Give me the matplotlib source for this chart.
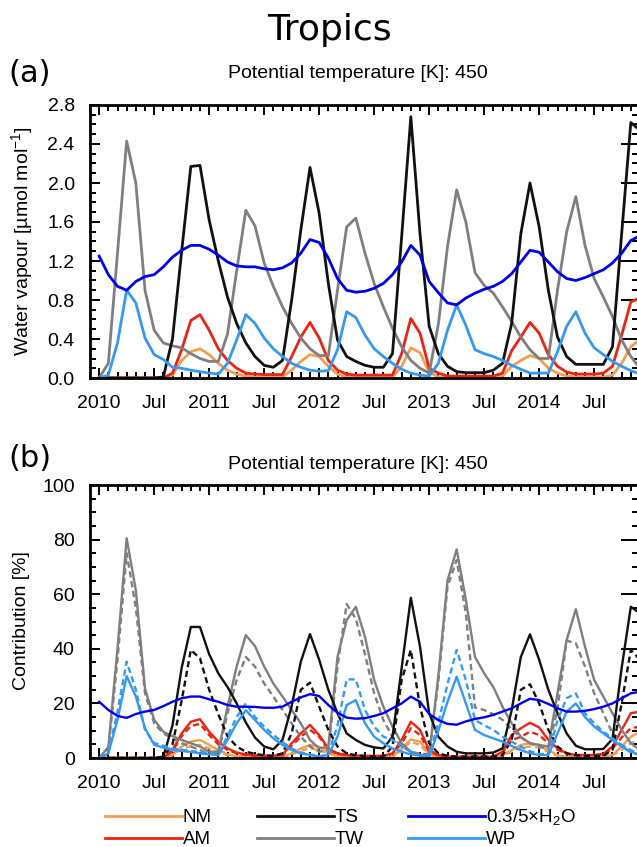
import numpy as np
import matplotlib.pyplot as plt
from matplotlib.ticker import MultipleLocator, FormatStrFormatter

plt.rcParams['font.family'] = ['Liberation Sans', 'DejaVu Sans']
plt.rcParams['mathtext.fontset'] = 'custom'
plt.rcParams['mathtext.rm'] = 'Liberation Sans'
plt.rcParams['mathtext.it'] = 'Liberation Sans:italic'

# month index 0 = Jan 2010 ... 59 = Dec 2014
months = np.arange(60)
tick_pos = np.arange(0, 60, 6)
tick_lab = ['2010', 'Jul', '2011', 'Jul', '2012', 'Jul', '2013', 'Jul', '2014', 'Jul']

# (a) water vapour [umol/mol]
nm_top = [0, 0, 0, 0, 0, 0, 0, 0,
          0.03, 0.18, 0.27, 0.30, 0.24, 0.15, 0.08, 0.04,
          0.02, 0.01, 0.01, 0.01, 0.01, 0.08, 0.17, 0.24,
          0.22, 0.12, 0.04, 0.01, 0.01, 0.01, 0.01, 0.01,
          0.01, 0.12, 0.31, 0.26, 0.06, 0.01, 0.01, 0.01,
          0.01, 0.01, 0.01, 0.01, 0.02, 0.12, 0.18, 0.23,
          0.20, 0.10, 0.05, 0.02, 0.01, 0.01, 0.01, 0.01,
          0.03, 0.15, 0.32, 0.40]
am_top = [0, 0, 0, 0, 0, 0, 0, 0,
          0.05, 0.29, 0.59, 0.65, 0.49, 0.30, 0.18, 0.10,
          0.05, 0.04, 0.035, 0.035, 0.035, 0.22, 0.42, 0.57,
          0.41, 0.18, 0.08, 0.04, 0.03, 0.03, 0.03, 0.03,
          0.03, 0.25, 0.61, 0.46, 0.10, 0.05, 0.02, 0.02,
          0.02, 0.02, 0.02, 0.02, 0.05, 0.28, 0.42, 0.57,
          0.46, 0.24, 0.12, 0.06, 0.04, 0.04, 0.04, 0.05,
          0.12, 0.44, 0.78, 0.82]
ts_top = [0, 0, 0, 0, 0, 0, 0, 0.01,
          0.40, 1.30, 2.17, 2.18, 1.62, 1.20, 0.83, 0.56,
          0.36, 0.22, 0.13, 0.11, 0.18, 0.80, 1.52, 2.16,
          1.69, 0.97, 0.39, 0.22, 0.17, 0.13, 0.11, 0.11,
          0.25, 1.45, 2.68, 1.48, 0.53, 0.25, 0.12, 0.065,
          0.055, 0.055, 0.055, 0.08, 0.15, 0.56, 1.48, 2.00,
          1.55, 0.90, 0.42, 0.22, 0.14, 0.14, 0.14, 0.14,
          0.32, 1.48, 2.62, 2.54]
tw_top = [0, 0.15, 1.28, 2.43, 2.00, 0.90, 0.49, 0.36,
          0.33, 0.31, 0.25, 0.20, 0.17, 0.17, 0.45, 1.10,
          1.72, 1.56, 1.18, 0.94, 0.73, 0.56, 0.41, 0.30,
          0.23, 0.23, 0.90, 1.55, 1.64, 1.28, 0.97, 0.73,
          0.51, 0.32, 0.18, 0.10, 0.05, 0.55, 1.35, 1.93,
          1.60, 1.08, 0.95, 0.87, 0.73, 0.58, 0.42, 0.29,
          0.20, 0.20, 0.90, 1.50, 1.86, 1.36, 1.02, 0.83,
          0.63, 0.39, 0.22, 0.10]
wp_top = [0, 0.03, 0.36, 0.90, 0.77, 0.41, 0.24, 0.19,
          0.11, 0.10, 0.08, 0.065, 0.05, 0.04, 0.15, 0.39,
          0.65, 0.56, 0.41, 0.30, 0.22, 0.15, 0.11, 0.08,
          0.07, 0.075, 0.29, 0.68, 0.62, 0.44, 0.30, 0.22,
          0.15, 0.09, 0.05, 0.03, 0.02, 0.15, 0.49, 0.75,
          0.54, 0.29, 0.25, 0.22, 0.18, 0.13, 0.09, 0.05,
          0.05, 0.05, 0.27, 0.53, 0.68, 0.46, 0.31, 0.24,
          0.17, 0.12, 0.075, 0.04]
h2o_top = [1.25, 1.06, 0.94, 0.90, 0.99, 1.04, 1.06, 1.14, 1.24, 1.31,
           1.36, 1.36, 1.32, 1.26, 1.19, 1.15, 1.14, 1.14, 1.12, 1.11,
           1.13, 1.18, 1.28, 1.42, 1.39, 1.23, 1.02, 0.90, 0.88, 0.89,
           0.92, 0.97, 1.06, 1.19, 1.36, 1.26, 0.99, 0.875, 0.77, 0.75,
           0.82, 0.87, 0.91, 0.94, 0.99, 1.07, 1.19, 1.31, 1.29, 1.19,
           1.09, 1.02, 1.00, 1.03, 1.07, 1.11, 1.18, 1.28, 1.41, 1.46]

# (b) contribution [%], solid and dashed variants
nm_sol = [0, 0, 0, 0, 0, 0, 0, 0,
          1.1, 4.2, 6.0, 6.6, 4.8, 2.9, 1.3, 0.7,
          0.4, 0.4, 0.4, 0.4, 0.4, 1.7, 3.5, 4.8,
          4.2, 2.3, 0.7, 0.4, 0.4, 0.4, 0.4, 0.4,
          0.4, 3.5, 6.8, 6.0, 1.7, 0.3, 0.3, 0.3,
          0.3, 0.3, 0.3, 0.3, 1.0, 2.9, 4.8, 5.4,
          4.8, 2.9, 1.1, 0.4, 0.4, 0.4, 0.4, 0.4,
          1.1, 4.2, 7.8, 9.6]
nm_dash = [0, 0, 0, 0, 0, 0, 0, 0,
           1.0, 3.2, 4.4, 4.8, 3.5, 2.2, 1.0, 0.5,
           0.3, 0.3, 0.3, 0.3, 0.3, 1.3, 2.7, 3.5,
           2.9, 1.7, 0.5, 0.3, 0.3, 0.3, 0.3, 0.3,
           0.3, 3.0, 6.0, 4.8, 1.3, 0.3, 0.3, 0.3,
           0.3, 0.3, 0.3, 0.3, 0.8, 2.3, 3.8, 4.2,
           3.8, 2.3, 0.8, 0.3, 0.3, 0.3, 0.3, 0.3,
           1.0, 3.0, 5.4, 6.5]
am_sol = [0, 0, 0, 0, 0, 0, 0, 0,
          2.9, 9.0, 13.3, 14.2, 9.6, 6.0, 3.5, 2.0,
          1.3, 1.0, 0.8, 0.8, 1.1, 5.4, 9.0, 12.1,
          8.4, 3.5, 1.7, 1.1, 0.9, 0.8, 0.8, 0.8,
          1.7, 6.6, 13.3, 10.3, 2.9, 1.1, 0.5, 0.5,
          0.5, 0.5, 0.5, 0.5, 2.3, 8.4, 10.9, 12.9,
          11.2, 6.6, 3.5, 1.7, 1.1, 1.1, 1.1, 1.5,
          4.2, 10.3, 16.4, 17.0]
am_dash = [0, 0, 0, 0, 0, 0, 0, 0,
           2.5, 8.0, 11.7, 12.5, 8.4, 5.0, 3.0, 1.7,
           1.1, 0.8, 0.7, 0.7, 1.0, 4.5, 7.8, 10.3,
           7.8, 3.0, 1.5, 1.0, 0.8, 0.7, 0.7, 0.7,
           1.5, 5.4, 10.9, 8.4, 2.3, 1.0, 0.5, 0.5,
           0.5, 0.5, 0.5, 0.5, 2.0, 6.5, 7.8, 9.6,
           8.4, 5.4, 3.0, 1.5, 1.0, 1.0, 1.0, 1.3,
           3.5, 7.5, 10.9, 11.5]
ts_sol = [0, 0, 0, 0, 0, 0, 0, 0.5,
          12, 33, 48, 48, 38, 31, 26, 20,
          13, 7.5, 4.2, 3.2, 6.6, 19, 35.3, 45.4,
          36, 25, 16.4, 9, 6.6, 4.8, 3.9, 3.5,
          7.8, 33, 58.7, 40.8, 16.4, 7.8, 4.2, 2.3,
          1.7, 1.7, 1.7, 2.0, 3.5, 17.5, 37, 45.3,
          36, 25, 16.4, 9, 4.5, 3.2, 3.2, 3.3,
          7, 33, 55.4, 53]
ts_dash = [0, 0, 0, 0, 0, 0, 0, 0.3,
           5, 21, 39.6, 36.5, 25, 16, 8, 4.2,
           2.3, 1.5, 1.0, 0.8, 1.7, 9, 25, 27.6,
           18.8, 10.3, 4.2, 1.7, 1.0, 0.7, 0.5, 0.5,
           4.2, 28.6, 39.6, 18.8, 5.4, 1.7, 0.8, 0.5,
           0.5, 0.5, 0.5, 0.5, 1.0, 6.6, 25, 27,
           20, 10.3, 4.2, 1.7, 1.0, 0.8, 0.8, 0.8,
           3, 20, 39.6, 36]
tw_sol = [0, 4, 40, 80.5, 61.5, 25.5, 14, 9.6,
          8, 6.6, 5.4, 4.2, 2.3, 2.3, 18.8, 33.5,
          45, 41, 33.5, 27.3, 22.5, 17.6, 12.7, 6.6,
          3.5, 4.2, 37, 50.5, 55.4, 44.4, 28.6, 18.8,
          11.5, 5.4, 2.3, 1.1, 1.1, 30, 65, 76.4,
          58, 37, 31, 26, 18.8, 12.7, 7.8, 5.4,
          4.8, 4.2, 23.7, 43.2, 54.5, 40.8, 28.6, 22.5,
          16.4, 10.3, 5.4, 2.9]
tw_dash = [0, 3, 36, 75, 55, 23.7, 12.7, 9,
           7.2, 5.4, 4.2, 2.9, 1.5, 1.7, 16.4, 28.6,
           37, 33.5, 27.3, 22.5, 17.6, 12.7, 7.8, 4.2,
           2.3, 2.9, 33.5, 56.4, 51, 38, 23.7, 13.9,
           7.8, 4.2, 2.3, 1.5, 1.5, 28, 62.8, 72.5,
           53, 18.5, 17.6, 16, 14, 10.5, 7.5, 5.4,
           4, 3.5, 18, 43, 42, 33.5, 23.7, 16.4,
           9, 4.2, 2, 1]
wp_sol = [0, 1.7, 14, 30, 22.5, 10.9, 4.8, 3.8,
          2.9, 2.6, 2.2, 1.7, 1.3, 1.1, 6.6, 12.7,
          17.5, 13.9, 10.3, 7.2, 4.8, 2.9, 1.7, 1.1,
          0.5, 1.1, 7.8, 19.4, 21.2, 12.7, 7.8, 5.4,
          3.5, 2.3, 1.3, 0.9, 0.5, 10, 20.6, 29.8,
          20, 10.3, 8.4, 7.2, 6, 4.4, 2.9, 1.7,
          1.1, 1.1, 9, 17, 20, 15, 11.5, 9,
          6.6, 4.2, 2.3, 1.1]
wp_dash = [0, 2, 17, 35.3, 25, 10.3, 5.5, 4.5,
           3.5, 3, 2.6, 2.1, 1.6, 1.3, 8, 15,
           20, 15, 11.5, 8.5, 5.8, 3.5, 2, 1.3,
           0.6, 1.3, 12, 28.8, 28.8, 17.6, 11.5, 7.8,
           6.6, 4.2, 2.3, 1.1, 0.5, 13, 27, 39.6,
           28.6, 13.9, 12, 10.3, 7.8, 6, 4.2, 2.5,
           1.5, 1.3, 13.9, 21.9, 23.7, 16.4, 12.7, 9.6,
           7.2, 4.8, 2.9, 1.5]
h2o_bot = [20.6, 17.6, 15.4, 14.7, 16.1, 17, 17.6, 19, 20.6, 21.9,
           22.5, 22.5, 21.5, 20.6, 19.4, 18.8, 18.8, 18.7, 18.4, 18.4,
           18.8, 20.6, 22.2, 23.4, 22.7, 19.4, 16.6, 14.8, 14.4, 14.6,
           15.4, 16.4, 18.2, 20, 22.5, 20.6, 16.1, 13.9, 12.5, 12.2,
           13.4, 14.3, 14.9, 15.8, 17, 18.2, 20, 21.7, 21.2, 19.8,
           18.2, 17, 17, 17.3, 17.9, 18.8, 20, 21.9, 23.7, 24.3]

c_nm = '#F59D4F'
c_am = '#EE2211'
c_ts = '#111111'
c_tw = '#7F7F7F'
c_h2o = '#0000EE'
c_wp = '#3399F5'

W, H = 637, 847
fig = plt.figure(figsize=(W / 100, H / 100), dpi=100)


def px_axes(l, t, r, b):
    return fig.add_axes([l / W, 1 - b / H, (r - l) / W, (b - t) / H])


def style(ax, ymax, ymaj, ymin):
    ax.set_xlim(-1, 59)
    ax.set_ylim(0, ymax)
    ax.set_xticks(tick_pos)
    ax.set_xticklabels(tick_lab)
    ax.xaxis.set_minor_locator(MultipleLocator(1))
    ax.yaxis.set_major_locator(MultipleLocator(ymaj))
    ax.yaxis.set_minor_locator(MultipleLocator(ymin))
    ax.tick_params(which='both', direction='in', top=True, right=False,
                   width=1.4, labelsize=14)
    ax.tick_params(which='major', length=7)
    ax.tick_params(which='minor', length=4)
    ax.tick_params(axis='x', pad=12)
    ax.tick_params(axis='y', pad=11)
    for s in ax.spines.values():
        s.set_linewidth(2)
    sec = ax.secondary_yaxis('right')
    sec.yaxis.set_major_locator(MultipleLocator(ymaj))
    sec.yaxis.set_minor_locator(MultipleLocator(ymin))
    sec.tick_params(which='both', direction='in', width=1.4, labelright=False)
    sec.tick_params(which='major', length=14)
    sec.tick_params(which='minor', length=6)


ax1 = px_axes(90, 105, 640, 378)
lw = 2.0
ax1.plot(months, nm_top, color=c_nm, lw=lw)
ax1.plot(months, am_top, color=c_am, lw=lw)
ax1.plot(months, tw_top, color=c_tw, lw=lw)
ax1.plot(months, ts_top, color=c_ts, lw=lw)
ax1.plot(months, wp_top, color=c_wp, lw=lw)
ax1.plot(months, h2o_top, color=c_h2o, lw=lw)
style(ax1, 2.8, 0.4, 0.1)
ax1.yaxis.set_major_formatter(FormatStrFormatter('%.1f'))

ax2 = px_axes(90, 485, 640, 758)
lw2 = 1.7
dsh = (2.6, 1.6)
for sol, dash, c in [(nm_sol, nm_dash, c_nm), (am_sol, am_dash, c_am),
                     (tw_sol, tw_dash, c_tw), (ts_sol, ts_dash, c_ts),
                     (wp_sol, wp_dash, c_wp)]:
    ax2.plot(months, sol, color=c, lw=lw2)
    ax2.plot(months, dash, color=c, lw=lw2, dashes=dsh)
ax2.plot(months, h2o_bot, color=c_h2o, lw=lw2)
style(ax2, 100, 20, 5)

fig.text(329 / W, 1 - 30 / H, 'Tropics', fontsize=26, family='DejaVu Sans',
         ha='center', va='center')
fig.text(8 / W, 1 - 74 / H, '(a)', fontsize=22, family='DejaVu Sans',
         ha='left', va='center')
fig.text(8 / W, 1 - 458 / H, '(b)', fontsize=22, family='DejaVu Sans',
         ha='left', va='center')
fig.text(358 / W, 1 - 73 / H, 'Potential temperature [K]: 450', fontsize=14,
         ha='center', va='center')
fig.text(358 / W, 1 - 464 / H, 'Potential temperature [K]: 450', fontsize=14,
         ha='center', va='center')
fig.text(22 / W, 1 - 241 / H, 'Water vapour [\u00b5mol mol$^{-1}$]', fontsize=14,
         rotation=90, ha='center', va='center')
fig.text(22 / W, 1 - 621 / H, 'Contribution [%]', fontsize=14,
         rotation=90, ha='center', va='center')

# legend drawn in pixel coordinates
leg = fig.add_axes([0, 0, 1, 1])
leg.set_xlim(0, W)
leg.set_ylim(H, 0)
leg.axis('off')
leg_names = ['NM', 'AM', 'TS', 'TW', '0.3/5$\\times$H$_2$O', 'WP']
leg_colors = [c_nm, c_am, c_ts, c_tw, c_h2o, c_wp]
col_x = [105, 257, 408]
row_y = [816, 838]
for i, (name, c) in enumerate(zip(leg_names, leg_colors)):
    x0 = col_x[i // 2]
    y0 = row_y[i % 2]
    leg.plot([x0, x0 + 77], [y0, y0], color=c, lw=2)
    leg.text(x0 + 78, y0 + 1, name, fontsize=13.5, ha='left', va='center')

fig.savefig('out.png', dpi=100)
